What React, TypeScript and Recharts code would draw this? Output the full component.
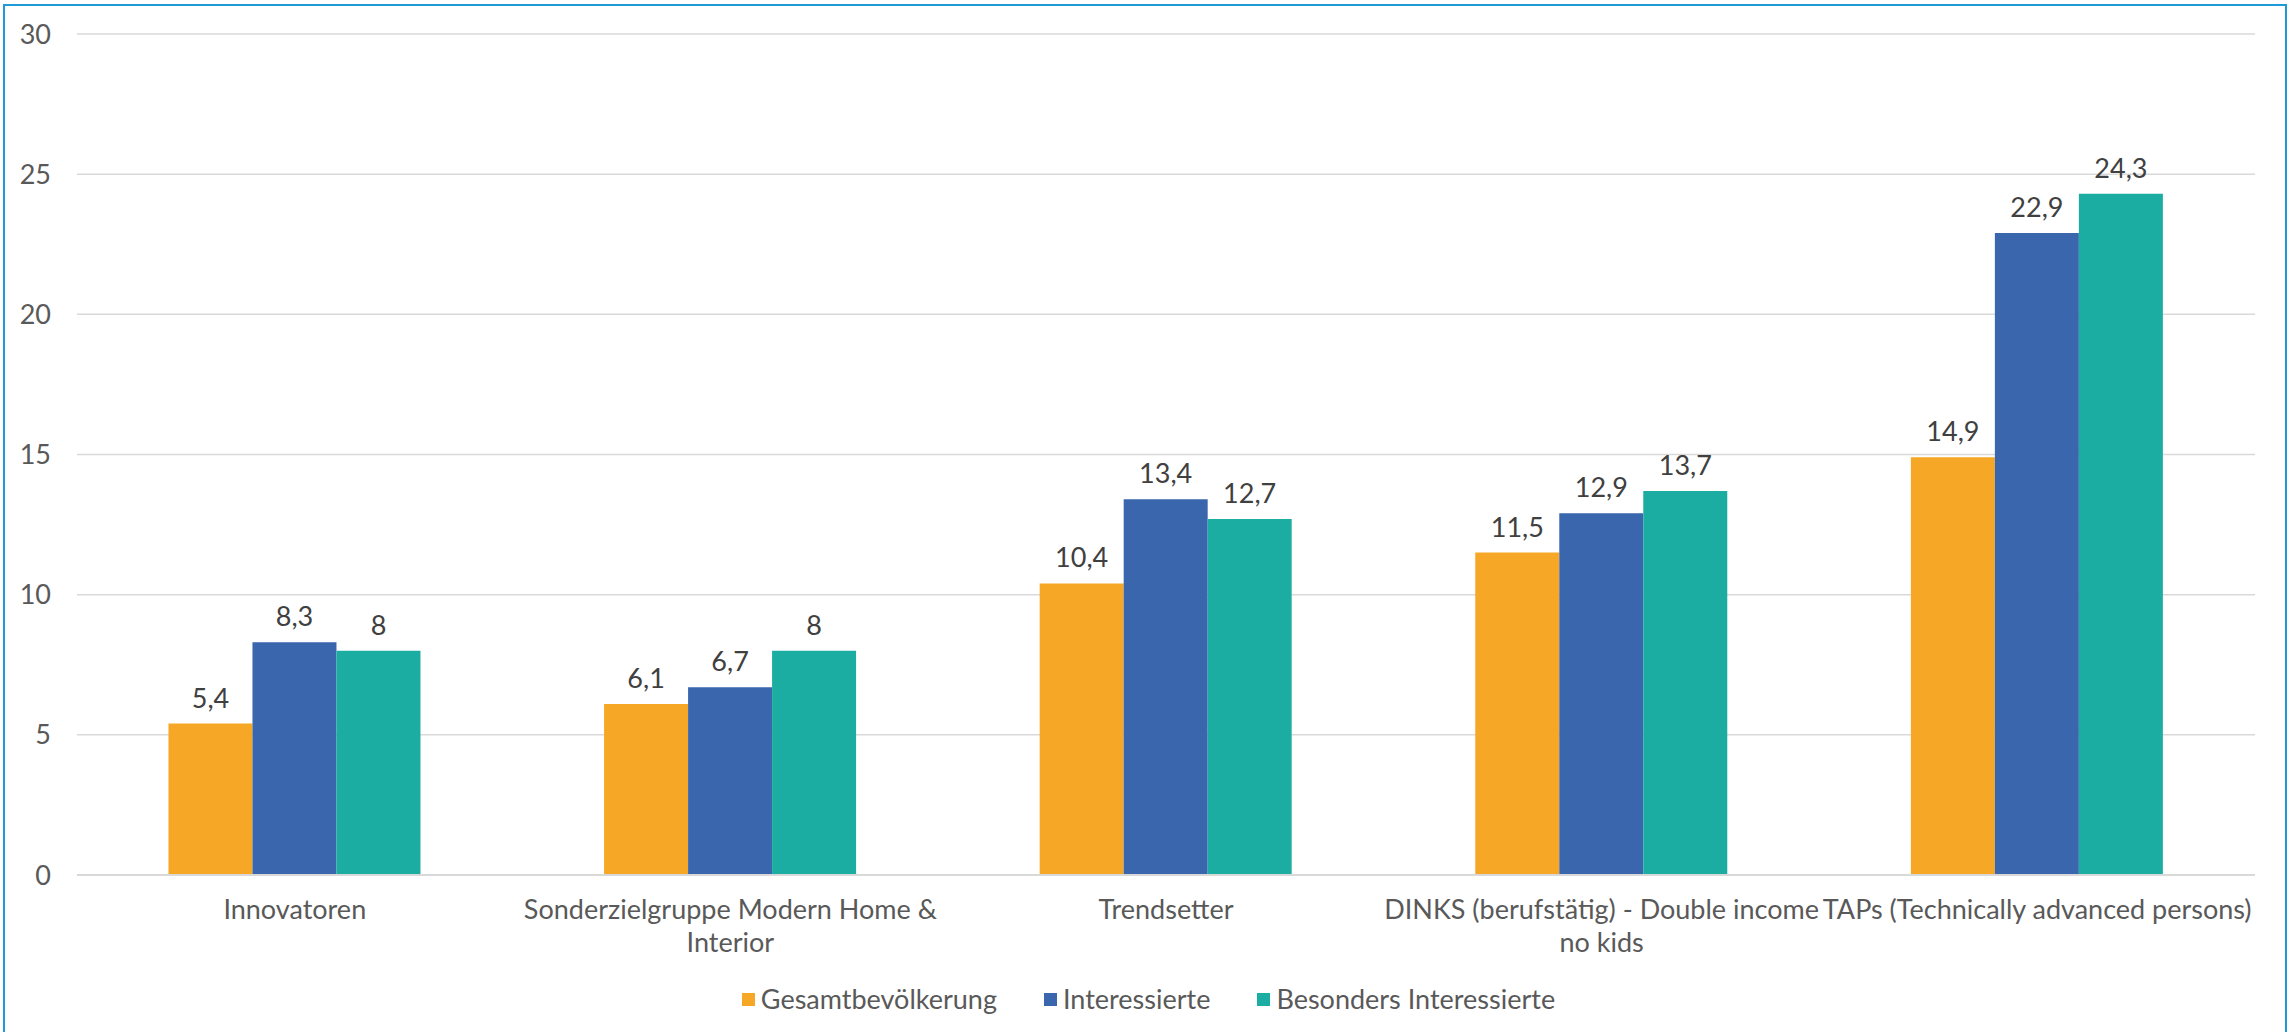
import { BarChart, Bar, XAxis, YAxis, CartesianGrid, Legend, LabelList } from "recharts"

const categories = [
  "Innovatoren",
  "Sonderzielgruppe Modern Home &\nInterior",
  "Trendsetter",
  "DINKS (berufstätig) - Double income\nno kids",
  "TAPs (Technically advanced persons)",
]
const gesamt = [5.4, 6.1, 10.4, 11.5, 14.9]
const interessierte = [8.3, 6.7, 13.4, 12.9, 22.9]
const besonders = [8, 8, 12.7, 13.7, 24.3]
const yTicks = [0, 5, 10, 15, 20, 25, 30]

const series = [
  { key: "gesamt", name: "Gesamtbevölkerung", color: "#F5A725" },
  { key: "interessierte", name: "Interessierte", color: "#3A66AE" },
  { key: "besonders", name: "Besonders Interessierte", color: "#1CADA2" },
]

const data = categories.map((c, i) => ({
  name: c,
  gesamt: gesamt[i],
  interessierte: interessierte[i],
  besonders: besonders[i],
}))

const FONT = "Lato, 'Open Sans', sans-serif"
const fmt = (v: any) => String(v).replace(".", ",")

function CatTick({ x, y, payload }: any) {
  const lines = String(payload.value).split("\n")
  return (
    <text x={x} y={y} textAnchor="middle" fill="#595959" fontSize={27} fontFamily={FONT}>
      {lines.map((l, i) => (
        <tspan key={i} x={x} dy={i === 0 ? 19 : 33}>
          {l}
        </tspan>
      ))}
    </text>
  )
}

function LegendBox() {
  return (
    <div
      style={{
        display: "flex",
        justifyContent: "center",
        height: 30,
        lineHeight: "30px",
        paddingLeft: 42,
        fontFamily: FONT,
        fontSize: 27,
        color: "#595959",
      }}
    >
      {series.map((s, i) => (
        <div key={s.key} style={{ display: "flex", alignItems: "center", marginLeft: i ? 47 : 0 }}>
          <span style={{ width: 13, height: 13, background: s.color, marginRight: 6, display: "inline-block" }} />
          {s.name}
        </div>
      ))}
    </div>
  )
}

export default function App() {
  return (
    <div style={{ position: "absolute", left: 0, top: 0, width: 2291, height: 1032, overflow: "hidden", background: "#fff" }}>
      <div
        style={{
          position: "absolute",
          left: 3,
          top: 4,
          width: 2280,
          height: 1060,
          border: "2px solid #1E9BD7",
        }}
      />
      <div style={{ position: "absolute", left: 0, top: 0 }}>
        <BarChart
          width={2291}
          height={1032}
          data={data}
          margin={{ top: 34, right: 36, bottom: 18, left: 0 }}
          barCategoryGap="21%"
          barGap={0}
        >
          <CartesianGrid vertical={false} stroke="#D9D9D9" strokeWidth={1.5} />
          <XAxis
            dataKey="name"
            interval={0}
            height={109}
            tickLine={false}
            tickSize={0}
            tickMargin={25}
            axisLine={{ stroke: "#D9D9D9", strokeWidth: 2 }}
            tick={<CatTick />}
          />
          <YAxis
            width={77}
            domain={[0, 30]}
            ticks={yTicks}
            axisLine={false}
            tickLine={false}
            tickSize={0}
            tickMargin={26}
            tick={{ fill: "#595959", fontSize: 27, fontFamily: FONT }}
          />
          <Legend verticalAlign="bottom" content={<LegendBox />} />
          {series.map((s) => (
            <Bar key={s.key} dataKey={s.key} name={s.name} fill={s.color} isAnimationActive={false}>
              <LabelList
                dataKey={s.key}
                position="top"
                offset={16}
                formatter={fmt}
                fill="#404040"
                fontSize={27}
                fontFamily={FONT}
              />
            </Bar>
          ))}
        </BarChart>
      </div>
    </div>
  )
}
